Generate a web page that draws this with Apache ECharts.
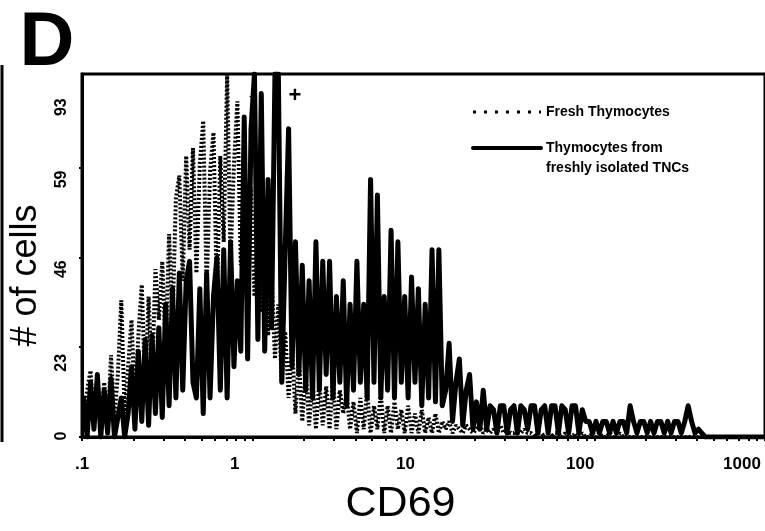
<!DOCTYPE html>
<html><head><meta charset="utf-8">
<script src="https://cdn.jsdelivr.net/npm/echarts@6/dist/echarts.min.js"></script>
<style>html,body{margin:0;padding:0;background:#fff}#c{width:765px;height:531px}</style>
</head><body><div id="c"></div>
<script>
// ---- data ----
const X_TICK_LABELS = ['.1', '1', '10', '100', '1000'];
const X_TICK_VALUES = [0.1, 1, 10, 100, 1000];
const Y_TICK_VALUES = [0, 23, 46, 69];
const Y_TICK_LABELS = ['0', '23', '46', '59', '93'];
const SERIES_NAMES = ['Fresh Thymocytes', 'Thymocytes from\nfreshly isolated TNCs'];
// histogram channels: log10(CD69) of first channel and channel width (decades)
const BIN_FIRST_LOG = -0.99;
const BIN_STEP_LOG = 0.02;
const freshThymocytes = [
  5,12,17,3,15,4,14,2,21,5,16,35,6,18,
  30,8,26,39,12,36,14,43,
  30,45,22,52,30,61,67,40,72,
  48,74,42,70,81,38,68,78,36,72,50,93,45,70,86,
  44,72,40,64,36,58,32,50,26,42,20,34,14,27,10,
  24,6,20,4,17,3,15,2,14,3,13,2,15,2,12,
  6,11,2,9,1,10,2,12,1,8,2,11,1,8,1,9,2,7,1,8,1,6,1,7,1,5,1,6,1,4,
  2,4,1,3,2,1,3,2,1,2,3,1,2,1,2,1,3,1,2,1,1,2,1,2,1,
  1,0,1,1,0,1,0,1,1,0,1,0,0,1,0,1,0,0,1,0,1,0,0,1,0,0,1,0,0,0,
  0,0,0,0,0,0,0,0,0,0,0,0,0,0,0,0,0,0,0,0,0,0,0,0,0,0,0,0,0,0,0,0,0,0,0,0,0,0,0
];
const tncThymocytes = [
  10,0,14,2,16,0,12,1,15,0,5,10,0,6,
  18,2,22,4,25,3,26,6,
  28,5,34,8,38,10,42,12,40,
  45,14,10,38,6,42,10,36,
  46,12,48,10,50,18,
  40,22,82,20,79,93,25,88,
  22,66,28,93,93,14,48,79,18,50,
  16,44,12,40,10,50,
  12,45,16,45,10,36,14,40,8,34,12,45,
  14,34,10,66,14,62,10,36,12,53,10,50,14,36,10,41,
  14,38,8,34,10,48,9,48,8,
  12,24,4,14,20,3,12,16,2,9,2,12,2,
  8,7,1,8,8,1,7,8,1,8,7,2,8,8,1,7,8,1,8,8,1,8,7,1,8,8,1,7,4,
  4,1,4,1,4,4,1,4,1,4,4,1,8,4,1,4,4,1,4,1,4,4,1,4,1,4,4,1,4,8,4,1,2,1,
  0,0,0,0,0,0,0,0,0,0,0,0,0,0,0,0,0,0
];

// ---- chart ----
const FONT = "'Liberation Sans', Arial, sans-serif";
const toPairs = arr => arr.map((v, i) => [BIN_FIRST_LOG + i * BIN_STEP_LOG, v]);
const xLabelLogs = X_TICK_VALUES.map(v => Math.log10(v));
const xTickLogs = [];
for (let d = -1; d <= 2; d++) for (let k = 1; k <= 9; k++) xTickLogs.push(d + Math.log10(k));
xTickLogs.push(3);
const yLabelAt = [0.25, 19, 43, 66, 84.5];
const noSymbol = {opacity: 0, color: 'rgba(0,0,0,0)', borderWidth: 0};

const chart = echarts.init(document.getElementById('c'), null, {renderer: 'canvas'});
chart.setOption({
  animation: false,
  backgroundColor: '#fff',
  textStyle: {fontFamily: FONT, color: '#000'},
  grid: {left: 82, top: 74, right: -5, bottom: 87.5, show: true, borderColor: '#000', borderWidth: 3},
  legend: {
    orient: 'vertical', left: 471, top: 102, itemWidth: 68, itemHeight: 14, itemGap: -4, padding: 0,
    selectedMode: false,
    formatter: name => (name === SERIES_NAMES[1] ? '\n' + name : name),
    textStyle: {fontFamily: FONT, fontWeight: 'bold', fontSize: 14, lineHeight: 20, color: '#000'},
    data: [
      {name: SERIES_NAMES[0], lineStyle: {type: [3, 8], width: 3, color: '#000'}, itemStyle: noSymbol},
      {name: SERIES_NAMES[1], lineStyle: {type: 'solid', width: 4, color: '#000'}, itemStyle: noSymbol}
    ]
  },
  xAxis: {
    type: 'value', min: -1, max: 3,
    name: 'CD69', nameLocation: 'middle', nameGap: 46,
    nameTextStyle: {fontFamily: FONT, fontSize: 43, color: '#000', padding: [0, 46, 0, 0]},
    axisLine: {onZero: false, lineStyle: {color: '#000', width: 3}},
    axisTick: {show: true, customValues: xTickLogs, length: 4, lineStyle: {color: '#000', width: 2}},
    splitLine: {show: false},
    axisLabel: {
      customValues: xLabelLogs, margin: 19, color: '#000',
      fontFamily: FONT, fontWeight: 'bold', fontSize: 17,
      formatter: v => {
        const k = xLabelLogs.findIndex(p => Math.abs(p - v) < 1e-6);
        if (k < 0) return '';
        const tag = ['f', 's', 's', 't', 'm'][k];
        return '{' + tag + '|' + X_TICK_LABELS[k] + '}';
      },
      rich: {
        f: {fontFamily: FONT, fontWeight: 'bold', fontSize: 17, color: '#000', padding: [0, 0, 0, 0]},
        s: {fontFamily: FONT, fontWeight: 'bold', fontSize: 17, color: '#000', padding: [0, 36, 0, 0]},
        t: {fontFamily: FONT, fontWeight: 'bold', fontSize: 17, color: '#000', padding: [0, 28, 0, 0]},
        m: {fontFamily: FONT, fontWeight: 'bold', fontSize: 17, color: '#000', padding: [0, 46, 0, 0]}
      }
    }
  },
  yAxis: {
    type: 'value', min: 0, max: 93,
    name: '# of cells', nameLocation: 'middle', nameGap: 38,
    nameTextStyle: {fontFamily: FONT, fontSize: 36, color: '#000', padding: [0, 40, 0, 0]},
    axisLine: {show: true, onZero: false, lineStyle: {color: '#000', width: 3}},
    axisTick: {show: true, customValues: Y_TICK_VALUES, length: 3, lineStyle: {color: '#000', width: 2}},
    splitLine: {show: false},
    axisLabel: {
      customValues: yLabelAt, rotate: 90, margin: 12, color: '#000',
      fontFamily: FONT, fontWeight: 'bold', fontSize: 16,
      formatter: v => {
        const k = yLabelAt.findIndex(p => Math.abs(p - v) < 1e-6);
        return k < 0 ? '' : Y_TICK_LABELS[k];
      }
    }
  },
  series: [
    {name: SERIES_NAMES[1], type: 'line', data: toPairs(tncThymocytes), symbol: 'none', showSymbol: false,
     lineStyle: {color: '#000', width: 5, join: 'round', cap: 'round'}, itemStyle: {color: '#000'}, z: 2},
    {name: SERIES_NAMES[0], type: 'line', data: toPairs(freshThymocytes), symbol: 'none', showSymbol: false,
     lineStyle: {color: '#000', width: 4, type: [2, 2], cap: 'butt'}, itemStyle: {color: '#000'}, z: 3}
  ],
  graphic: [
    {type: 'text', x: 19.5, y: 44.5, style: {text: 'D', fontFamily: FONT, fontWeight: 'bold', fontSize: 76, fill: '#000', align: 'left', verticalAlign: 'middle'}},
    {type: 'text', x: 251, y: 96, z: 10, style: {text: '-', fontFamily: FONT, fontWeight: 'bold', fontSize: 10, fill: '#000', align: 'center', verticalAlign: 'middle'}},
    {type: 'text', x: 295, y: 96, z: 10, style: {text: '+', fontFamily: FONT, fontWeight: 'bold', fontSize: 22, fill: '#000', align: 'center', verticalAlign: 'middle'}},
    {type: 'line', shape: {x1: 2, y1: 65, x2: 2, y2: 442}, style: {stroke: '#000', lineWidth: 3}}
  ]
});
</script>
</body></html>
